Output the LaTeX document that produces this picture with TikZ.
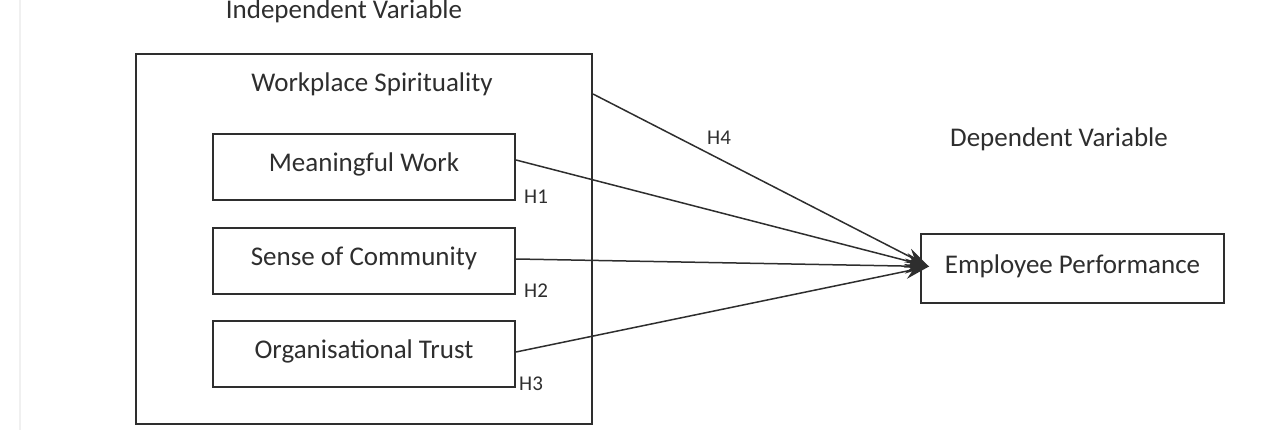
\documentclass[tikz,border=0pt]{standalone}
\usepackage{fontspec}
\setmainfont{Carlito}
\usetikzlibrary{arrows.meta,calc}
\definecolor{ink}{HTML}{2E2E2E}
\begin{document}
\begin{tikzpicture}[x=1pt,y=-1pt,
  box/.style={draw=ink, line width=2pt, minimum width=302pt, minimum height=66pt, inner sep=0pt,
    text=ink, font=\fontsize{27}{32}\selectfont, text height=18pt, text depth=9pt},
  lbl/.style={text=ink, font=\fontsize{27}{32}\selectfont, inner sep=0pt, anchor=base},
  hlbl/.style={text=ink, font=\fontsize{21}{25}\selectfont, inner sep=0pt, anchor=base west},
  link/.style={draw=ink, line width=1.5pt, -{Stealth[length=24pt,width=15pt]}}]
\useasboundingbox (0,0) rectangle (1273,430);
\draw[black!6, line width=2pt] (20,0) -- (20,430);
\node[draw=ink, line width=2pt, minimum width=456pt, minimum height=370pt, inner sep=0pt] (outer) at (364,239) {};
\node[lbl] (iv) at (344,19) {Independent Variable};
\node[lbl] (ws) at (372,92) {Workplace Spirituality};
\node[box] (mw) at (364,167) {Meaningful Work};
\node[box] (sc) at (364,261) {Sense of Community};
\node[box] (ot) at (364,354) {Organisational Trust};
\node[box, minimum width=303pt, minimum height=69pt] (ep) at (1072.5,268.5) {Employee Performance};
\node[lbl] (dv) at (1059,147) {Dependent Variable};
\node[hlbl] (h1) at (524,204) {H1};
\node[hlbl] (h2) at (524,297) {H2};
\node[hlbl] (h3) at (519,390) {H3};
\node[hlbl] (h4) at (707,145) {H4};
\coordinate (tip) at ($(ep.west)+(9,-2)$);
\draw[link] ($(outer.north east)+(0,41)$) -- (tip);
\draw[link] ($(mw.east)+(0,-7)$) -- (tip);
\draw[link] ($(sc.east)+(0,-2)$) -- (tip);
\draw[link] ($(ot.east)+(0,-2)$) -- (tip);
\end{tikzpicture}
\end{document}
